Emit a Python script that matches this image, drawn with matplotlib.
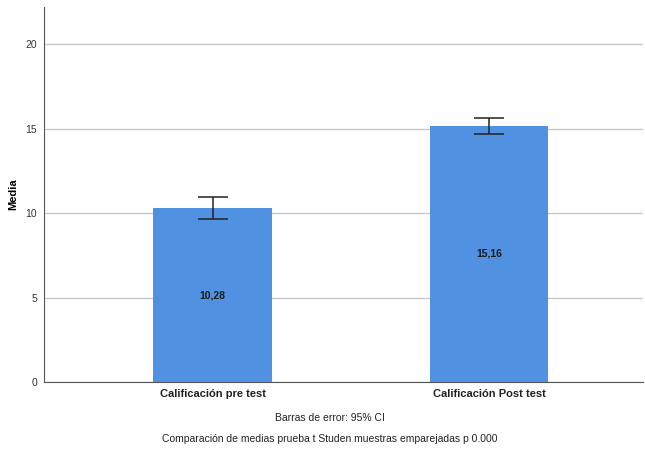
import matplotlib
matplotlib.use("Agg")
import matplotlib.pyplot as plt

# data
categories = ["Calificación pre test", "Calificación Post test"]
means = [10.28, 15.16]
ci_low = [9.65, 14.67]
ci_high = [10.93, 15.64]
value_labels = ["10,28", "15,16"]
y_ticks = [0, 5, 10, 15, 20]

plt.rcParams["font.family"] = ["Liberation Sans", "DejaVu Sans"]

fig = plt.figure(figsize=(6.45, 4.54), dpi=100)
ax = fig.add_axes([44 / 645, 1 - 382 / 454, 599 / 645, 375 / 454])

x = list(range(len(categories)))
err = [[m - lo for m, lo in zip(means, ci_low)],
       [hi - m for m, hi in zip(means, ci_high)]]

ax.bar(x, means, width=0.43, color="#5191e1", zorder=2)
ax.errorbar(x, means, yerr=err, fmt="none", ecolor="#222222",
            elinewidth=1.1, capsize=11, capthick=1.1, zorder=3)

for xi, m, lab in zip(x, means, value_labels):
    ax.text(xi, m / 2, lab, ha="center", va="center", fontsize=7.5,
            fontweight="bold", color="#1a1a1a", zorder=4)

ax.set_xlim(-0.61, 1.557)
ax.set_ylim(0, 22.2)
ax.set_yticks(y_ticks)
ax.set_xticks(x)
ax.set_xticklabels(categories, fontsize=8, fontweight="bold", color="#222222")
ax.tick_params(axis="y", length=0, labelsize=7.5, labelcolor="#333333", pad=5)
ax.tick_params(axis="x", length=0, pad=5)

ax.yaxis.grid(True, color="#c8c8c8", linewidth=1.0, zorder=0)
ax.set_axisbelow(True)
for side in ["top", "right"]:
    ax.spines[side].set_visible(False)
ax.spines["left"].set_color("#555555")
ax.spines["bottom"].set_color("#555555")

ax.set_ylabel("Media", fontsize=8, fontweight="bold")
ax.yaxis.set_label_coords(-26 / 599, (382 - 194) / 375)

fig.text(330 / 645, 1 - 418 / 454, "Barras de error: 95% CI",
         ha="center", va="center", fontsize=7.5, color="#222222")
fig.text(330 / 645, 1 - 439 / 454,
         "Comparación de medias prueba t Studen muestras emparejadas p 0.000",
         ha="center", va="center", fontsize=7.5, color="#222222")

fig.savefig("out.png", dpi=100)
